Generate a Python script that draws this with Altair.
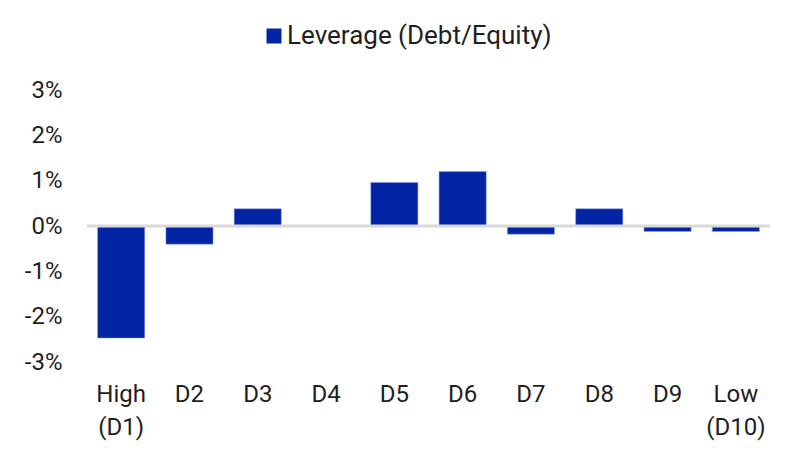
import altair as alt
import pandas as pd

# decile buckets and leverage factor return (%)
deciles = ["High (D1)", "D2", "D3", "D4", "D5", "D6", "D7", "D8", "D9", "Low (D10)"]
leverage = [-2.47, -0.40, 0.38, 0.0, 0.96, 1.20, -0.18, 0.38, -0.12, -0.12]
series_name = "Leverage (Debt/Equity)"

df = pd.DataFrame({"decile": deciles, "value": [v / 100 for v in leverage], "series": series_name})
zero_df = pd.DataFrame({"y": [0.0]})

bars = alt.Chart(df).mark_bar(stroke="#8f9fd9", strokeWidth=0.5).encode(
    x=alt.X("decile:N", sort=deciles,
            scale=alt.Scale(paddingInner=0.31, paddingOuter=0.155),
            axis=alt.Axis(title=None, labelAngle=0, ticks=False, domain=False,
                          labelExpr="split(datum.label, ' ')",
                          labelFontSize=24, labelLineHeight=33, labelPadding=20,
                          labelBaseline="top", labelColor="#1f1f1f")),
    y=alt.Y("value:Q",
            scale=alt.Scale(domain=[-0.03, 0.03]),
            axis=alt.Axis(title=None, format=".0%", values=[-0.03, -0.02, -0.01, 0, 0.01, 0.02, 0.03],
                          labelExpr="replace(datum.label, '\u2212', '-')",
                          grid=False, ticks=False, domain=False,
                          labelFontSize=24, labelPadding=25, labelColor="#1f1f1f")),
    color=alt.Color("series:N", scale=alt.Scale(range=["#0424A6"]),
                    legend=alt.Legend(title=None, orient="none", legendX=174, legendY=-67,
                                      symbolType="square", symbolSize=225, symbolStrokeWidth=0,
                                      labelFontSize=26, labelLimit=400, labelColor="#1f1f1f",
                                      labelOffset=0))
)

zero = alt.Chart(zero_df).mark_rule(color="#d9d9d9", strokeWidth=3).encode(y="y:Q")

chart = (bars + zero).properties(
    width=683, height=272,
    autosize=alt.AutoSizeParams(type="none"),
    padding={"left": 79, "top": 82, "right": 22, "bottom": 94},
).configure(font="Roboto").configure_view(strokeOpacity=0)

chart.save("out.html", embed_options={"renderer": "svg", "actions": False})
